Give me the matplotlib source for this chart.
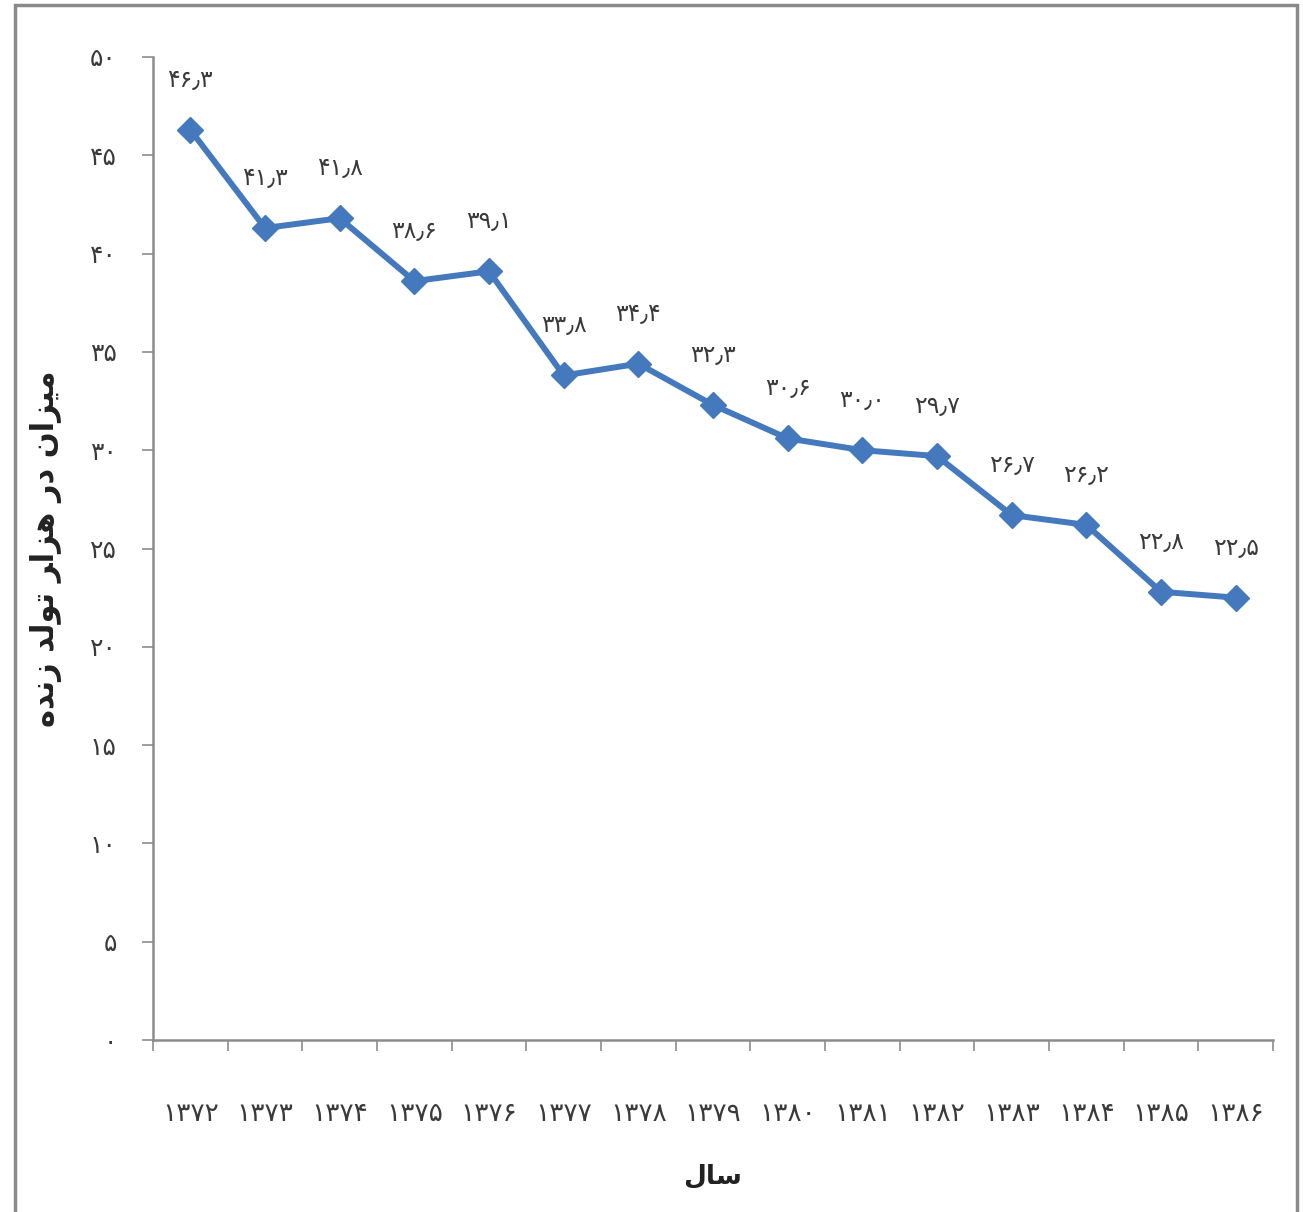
import matplotlib
matplotlib.use("Agg")
import matplotlib.pyplot as plt
from matplotlib.patches import Rectangle

plt.rcParams['font.family'] = ['DejaVu Sans']

# Infant mortality rate per 1000 live births, Iranian calendar years
years = [1372, 1373, 1374, 1375, 1376, 1377, 1378, 1379, 1380,
         1381, 1382, 1383, 1384, 1385, 1386]
rates = [46.3, 41.3, 41.8, 38.6, 39.1, 33.8, 34.4, 32.3, 30.6,
         30.0, 29.7, 26.7, 26.2, 22.8, 22.5]
y_ticks = [0, 5, 10, 15, 20, 25, 30, 35, 40, 45, 50]

# Axis titles in pre-shaped Arabic presentation forms (visual order)
y_title = "ﻩﺪﻧﺯ ﺪﻟﻮﺗ ﺮﺍﺰﻫ ﺭﺩ ﻥﺍﺰﻴﻣ"
x_title = "ﻝﺎﺳ"

FA_DIGITS = str.maketrans("0123456789.", "۰۱۲۳۴۵۶۷۸۹٫")


def fa(s):
    return str(s).translate(FA_DIGITS)


W, H = 1303, 1212
fig = plt.figure(figsize=(W / 100, H / 100), dpi=100)
fig.patch.set_facecolor("white")

# outer frame
fig.add_artist(Rectangle((15 / W, -0.01), (1297 - 15) / W, (H - 5) / H + 0.01,
                         transform=fig.transFigure, fill=False,
                         edgecolor="#8a8a8a", linewidth=2.5))

left, right, top, bottom = 153, 1273, 57, 1040
ax = fig.add_axes([left / W, (H - bottom) / H, (right - left) / W, (bottom - top) / H])

line_color = "#4579BD"
text_color = "#3a3a3a"
axis_color = "#8c8c8c"

x = list(range(len(years)))
ax.plot(x, rates, color=line_color, linewidth=4.3, marker="D", markersize=13,
        markeredgecolor=line_color, markerfacecolor=line_color, zorder=3)

for xi, v in zip(x, rates):
    ax.annotate(fa(f"{v:.1f}"), (xi, v), xytext=(0, 36), textcoords="offset points",
                ha="center", va="center", fontsize=17, color=text_color)

ax.set_xlim(-0.5, len(years) - 0.5)
ax.set_ylim(0, 50)

ax.set_yticks(y_ticks)
ax.set_yticklabels([fa(t) for t in y_ticks], fontsize=18, color=text_color)
ax.set_xticks(x)
ax.set_xticklabels([fa(y) for y in years], fontsize=19, color=text_color)
ax.set_xticks([i - 0.5 for i in range(len(years) + 1)], minor=True)

ax.tick_params(axis="y", which="major", length=8, width=1.2, color=axis_color, pad=18)
ax.tick_params(axis="x", which="major", length=0, pad=44)
ax.tick_params(axis="x", which="minor", length=8, width=1.2, color=axis_color, direction="out")

for side in ("top", "right"):
    ax.spines[side].set_visible(False)
for side in ("left", "bottom"):
    ax.spines[side].set_color(axis_color)
    ax.spines[side].set_linewidth(1.8)

ax.set_ylabel(y_title, fontsize=22, fontweight="bold", color="#222222", labelpad=20)
ax.set_xlabel(x_title, fontsize=19, fontweight="bold", color="#222222", labelpad=26)

fig.savefig("out.png", dpi=100, facecolor="white")
